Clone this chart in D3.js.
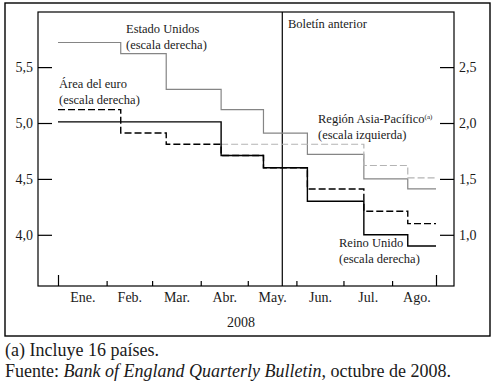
<!DOCTYPE html>
<html>
<head>
<meta charset="utf-8">
<script src="https://cdn.jsdelivr.net/npm/d3@7"></script>
<style>
	body { margin: 0; background: #fff; }
	text { font-family: "Liberation Serif", "DejaVu Serif", serif; fill: #1a1a1a; }
</style>
</head>
<body>
<script>
	// Step dates (start of each segment) and the last date shown
	const stepDates = ["2008-01-01", "2008-02-10", "2008-03-10", "2008-04-14", "2008-05-11", "2008-06-08", "2008-07-14", "2008-08-11"];
	const endDate = "2008-08-29";
	const bulletinDate = "2008-05-23";

	// Series (per cent)
	const usValues = [2.72, 2.62, 2.30, 2.12, 1.91, 1.72, 1.50, 1.41]; // right scale
	const euroValues = [2.12, 1.91, 1.81, 1.71, 1.60, 1.41, 1.21, 1.10]; // right scale
	const ukValues = [2.01, 2.01, 2.01, 1.71, 1.60, 1.30, 1.00, 0.90]; // right scale
	const asiaValues = [null, null, null, 4.81, 4.81, 4.81, 4.62, 4.51]; // left scale

	const monthLabels = ["Ene.", "Feb.", "Mar.", "Abr.", "May.", "Jun.", "Jul.", "Ago."];
	const leftTicks = [4.0, 4.5, 5.0, 5.5];
	const rightTicks = [1.0, 1.5, 2.0, 2.5];

	const W = 494, H = 385;
	const plot = { left: 38, right: 454, top: 12, bottom: 286 };
	const parse = d3.utcParse("%Y-%m-%d");
	const comma = d => d.toFixed(1).replace(".", ",");

	const svg = d3.select("body").append("svg")
		.attr("width", W).attr("height", H)
		.attr("xmlns", "http://www.w3.org/2000/svg");

	// outer box
	svg.append("rect")
		.attr("x", 5).attr("y", 3).attr("width", 485).attr("height", 333)
		.attr("fill", "none").attr("stroke", "#000").attr("stroke-width", 1.4);

	const x = d3.scaleUtc()
		.domain([parse(stepDates[0]), parse(endDate)])
		.range([58, 436]);
	const yLeft = d3.scaleLinear().domain([3.542, 5.993]).range([plot.bottom, plot.top]);
	const yRight = d3.scaleLinear().domain([0.542, 2.993]).range([plot.bottom, plot.top]);

	// plot frame
	svg.append("rect")
		.attr("x", plot.left).attr("y", plot.top)
		.attr("width", plot.right - plot.left).attr("height", plot.bottom - plot.top)
		.attr("fill", "none").attr("stroke", "#000").attr("stroke-width", 1.2);

	// left axis
	const gl = svg.append("g")
		.attr("transform", "translate(" + plot.left + ",0)")
		.call(d3.axisLeft(yLeft).tickValues(leftTicks).tickSize(-14).tickPadding(5).tickFormat(comma));
	gl.select(".domain").remove();

	// right axis
	const gr = svg.append("g")
		.attr("transform", "translate(" + plot.right + ",0)")
		.call(d3.axisRight(yRight).tickValues(rightTicks).tickSize(-14).tickPadding(5).tickFormat(comma));
	gr.select(".domain").remove();

	[gl, gr].forEach(g => {
		g.attr("font-family", null);
		g.selectAll("line").attr("stroke", "#000").attr("stroke-width", 1.2);
		g.selectAll("text").style("font-size", "14px").attr("fill", null);
	});

	// bottom ticks: month boundaries, longer at both ends
	const x0 = parse(stepDates[0]), x1 = parse(endDate);
	const monthStarts = d3.utcMonth.range(d3.utcMonth.offset(x0, 1), x1);
	const gb = svg.append("g")
		.attr("transform", "translate(0," + plot.bottom + ")")
		.call(d3.axisBottom(x).tickValues(monthStarts).tickSize(-5).tickFormat(""));
	gb.select(".domain").remove();
	const ge = svg.append("g")
		.attr("transform", "translate(0," + plot.bottom + ")")
		.call(d3.axisBottom(x).tickValues([x0, x1]).tickSize(-11).tickFormat(""));
	ge.select(".domain").remove();
	[gb, ge].forEach(g => g.selectAll("line").attr("stroke", "#000").attr("stroke-width", 1.2));

	// month labels at mid-month
	const mids = d3.utcMonth.range(x0, d3.utcMonth.offset(x0, monthLabels.length))
		.map(m => new Date((+m + +d3.utcMonth.offset(m, 1)) / 2));
	const gm = svg.append("g")
		.attr("transform", "translate(0," + plot.bottom + ")")
		.call(d3.axisBottom(x).tickValues(mids).tickSize(0).tickPadding(6)
			.tickFormat((d, i) => monthLabels[i]));
	gm.select(".domain").remove();
	gm.attr("font-family", null);
	gm.selectAll("text").style("font-size", "14px").attr("fill", null);

	svg.append("text")
		.attr("x", 241).attr("y", 327)
		.attr("text-anchor", "middle")
		.style("font-size", "14px")
		.text("2008");

	// previous bulletin marker
	svg.append("line")
		.attr("x1", x(parse(bulletinDate))).attr("x2", x(parse(bulletinDate)))
		.attr("y1", plot.top).attr("y2", plot.bottom)
		.attr("stroke", "#000").attr("stroke-width", 1.2);

	// step series
	function stepData(values) {
		const pts = stepDates.map((d, i) => ({ date: parse(d), v: values[i] }));
		pts.push({ date: parse(endDate), v: values[values.length - 1] });
		return pts;
	}
	function drawSeries(values, scale, color, width, dash) {
		const line = d3.line()
			.defined(d => d.v != null)
			.x(d => x(d.date))
			.y(d => scale(d.v))
			.curve(d3.curveStepAfter);
		svg.append("path")
			.datum(stepData(values))
			.attr("d", line)
			.attr("fill", "none")
			.attr("stroke", color)
			.attr("stroke-width", width)
			.attr("stroke-dasharray", dash);
	}
	drawSeries(usValues, yRight, "#858585", 1.2, null);
	drawSeries(asiaValues, yLeft, "#b4b4b4", 1.2, "7,3");
	drawSeries(ukValues, yRight, "#000", 1.4, null);
	drawSeries(euroValues, yRight, "#000", 1.4, "7,3");

	// series labels
	function label(xp, yp, lines) {
		const t = svg.append("text").attr("x", xp).attr("y", yp).style("font-size", "12.5px");
		lines.forEach((s, i) => t.append("tspan").attr("x", xp).attr("dy", i ? 16 : 0).text(s));
		return t;
	}
	label(126, 33, ["Estado Unidos", "(escala derecha)"]);
	label(59, 88, ["Área del euro", "(escala derecha)"]);
	label(288, 28, ["Boletín anterior"]);
	const asia = label(318, 123, ["Región Asia-Pacífico"]);
	asia.append("tspan").attr("dy", -4).style("font-size", "7px").text("(a)");
	label(318, 139, ["(escala izquierda)"]);
	label(339, 247, ["Reino Unido", "(escala derecha)"]);

	// footer
	svg.append("text").attr("x", 5).attr("y", 356).style("font-size", "18px")
		.text("(a) Incluye 16 países.");
	const src = svg.append("text").attr("x", 5).attr("y", 377).style("font-size", "18px");
	src.append("tspan").text("Fuente: ");
	src.append("tspan").style("font-style", "italic").text("Bank of England Quarterly Bulletin");
	src.append("tspan").text(", octubre de 2008.");
</script>
</body>
</html>
